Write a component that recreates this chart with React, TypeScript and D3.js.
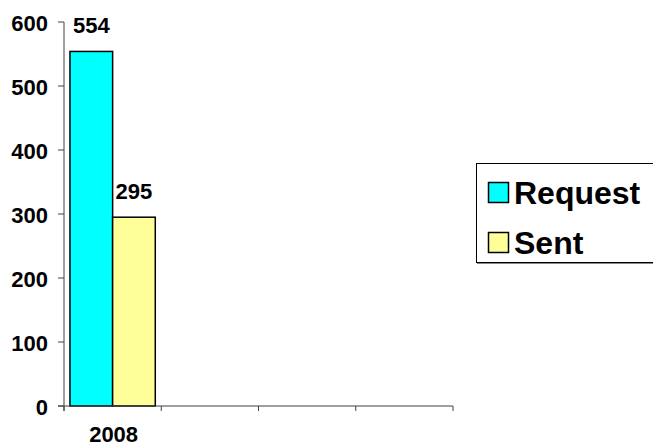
import React from "react";
import * as d3 from "d3";

const slots = ["2008", "s2", "s3", "s4"];
const categoryLabels = ["2008", "", "", ""];
const seriesNames = ["Request", "Sent"];
const requestValues = [554];
const sentValues = [295];
const seriesColors = ["#00FFFF", "#FFFF99"];
const yTicks = [0, 100, 200, 300, 400, 500, 600];

const W = 653;
const H = 448;
const left = 64;
const right = 453;
const top = 22;
const bottom = 406;

export default function App() {
  const y = d3.scaleLinear().domain([0, 600]).range([bottom, top]);
  const x = d3.scaleBand<string>().domain(slots).range([left, right]).padding(0);
  const x1 = d3
    .scaleBand<string>()
    .domain(seriesNames)
    .range([0, x.bandwidth()])
    .paddingInner(0)
    .paddingOuter(0.14);
  const series = [requestValues, sentValues];
  const font = "Arial, 'Liberation Sans', Helvetica, sans-serif";
  const axisColor = "#404040";

  return (
    <svg
      width={W}
      height={H}
      style={{ position: "absolute", left: 0, top: 0, background: "#fff" }}
      fontFamily={font}
    >
      <rect x={0} y={0} width={W} height={H} fill="#fff" />
      {/* bars */}
      {series.map((vals, si) =>
        vals.map((v, ci) => {
          const bx = (x(slots[ci]) ?? 0) + (x1(seriesNames[si]) ?? 0);
          return (
            <g key={`${si}-${ci}`}>
              <rect
                x={bx}
                y={y(v)}
                width={x1.bandwidth()}
                height={y(0) - y(v)}
                fill={seriesColors[si]}
                stroke="#000"
                strokeWidth={1.5}
              />
              <text
                x={bx + x1.bandwidth() / 2}
                y={y(v) - 18}
                textAnchor="middle"
                fontSize={22}
                fontWeight="bold"
                fill="#000"
              >
                {v}
              </text>
            </g>
          );
        })
      )}
      {/* y axis */}
      <line x1={left} x2={left} y1={top} y2={bottom + 5} stroke={axisColor} strokeWidth={1} />
      {yTicks.map((t) => (
        <g key={t}>
          <line x1={left - 6} x2={left} y1={y(t)} y2={y(t)} stroke={axisColor} strokeWidth={1} />
          <text
            x={48}
            y={y(t) + 8.5}
            textAnchor="end"
            fontSize={22}
            fontWeight="bold"
            fill="#000"
          >
            {t}
          </text>
        </g>
      ))}
      {/* x axis */}
      <line x1={left - 6} x2={right} y1={bottom} y2={bottom} stroke={axisColor} strokeWidth={1} />
      {[...slots.map((s) => x(s) ?? 0), right].map((px, i) => (
        <line key={i} x1={px} x2={px} y1={bottom} y2={bottom + 5} stroke={axisColor} strokeWidth={1} />
      ))}
      {categoryLabels.map((c, i) =>
        c ? (
          <text
            key={i}
            x={(x(slots[i]) ?? 0) + x.bandwidth() / 2 + 1}
            y={442}
            textAnchor="middle"
            fontSize={22}
            fontWeight="bold"
            fill="#000"
          >
            {c}
          </text>
        ) : null
      )}
      {/* legend */}
      <rect x={476.5} y={163.5} width={200} height={99} fill="#fff" stroke="#000" strokeWidth={1} />
      <line x1={477} x2={653} y1={263.5} y2={263.5} stroke="#888" strokeWidth={1} />
      {seriesNames.map((n, i) => (
        <g key={n}>
          <rect
            x={488.5}
            y={182.5 + i * 50}
            width={20}
            height={20}
            fill={seriesColors[i]}
            stroke="#000"
            strokeWidth={1.5}
          />
          <text x={514} y={204 + i * 50} fontSize={32} fontWeight="bold" fill="#000">
            {n}
          </text>
        </g>
      ))}
    </svg>
  );
}
